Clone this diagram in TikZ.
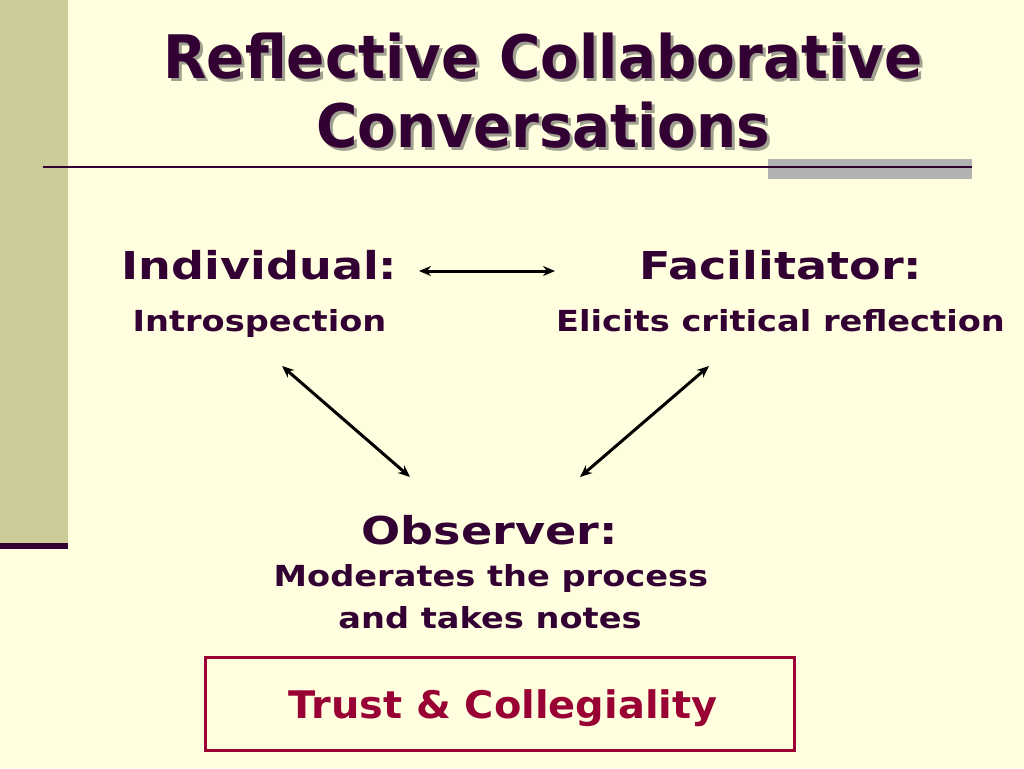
\documentclass[tikz,border=0pt]{standalone}
\usepackage{fontspec}
\setmainfont{DejaVu Sans}
\newfontfamily\titlefont[FakeStretch=0.94]{DejaVu Sans}
\newfontfamily\headfont[FakeStretch=1.20]{DejaVu Sans}
\newfontfamily\subfont[FakeStretch=1.16]{DejaVu Sans}
\newfontfamily\trustfont[FakeStretch=1.05]{DejaVu Sans}
\usetikzlibrary{arrows.meta}
\definecolor{bgc}{HTML}{FFFFE0}
\definecolor{barc}{HTML}{CCCC99}
\definecolor{purp}{HTML}{330033}
\definecolor{grayc}{HTML}{B2B2B2}
\definecolor{redc}{HTML}{990033}
\definecolor{shadowc}{HTML}{A0A090}
\newcommand{\shadowtext}[1]{\rlap{\hspace{3pt}\raisebox{-3pt}{\textcolor{shadowc}{#1}}}#1}
\tikzset{
  title/.style={anchor=base, inner sep=0pt, font=\titlefont\bfseries\fontsize{60}{62}\selectfont, text=purp},
  head/.style={anchor=base, inner sep=0pt, font=\headfont\bfseries\fontsize{38.4}{40}\selectfont, text=purp},
  sub/.style={anchor=base, inner sep=0pt, font=\subfont\bfseries\fontsize{29}{31}\selectfont, text=purp},
  dbl/.style={{Stealth[length=12pt,width=10pt]}-{Stealth[length=12pt,width=10pt]}, line width=3pt, black},
}
\begin{document}
\begin{tikzpicture}[x=1pt,y=-1pt]
\useasboundingbox (0,0) rectangle (1024,768);
\fill[bgc] (0,0) rectangle (1024,768);
\fill[barc] (0,0) rectangle (68,543);
\fill[purp] (0,543) rectangle (68,549);
\fill[grayc] (768,159) rectangle (972,179);
\draw[purp, line width=2pt] (43,167) -- (972,167);
% title
\node[title] (t1) at (543,78) {\shadowtext{Reflective Collaborative}};
\node[title] (t2) at (543,147) {\shadowtext{Conversations}};
% nodes
\node[head] (ind) at (259.5,279) {Individual:};
\node[sub] (intro) at (259.5,331) {Introspection};
\node[head] (fac) at (781,279) {Facilitator:};
\node[sub] (elic) at (780.5,331) {Elicits critical reflection};
\node[head] (obs) at (489.5,544) {Observer:};
\node[sub] (mod) at (491,586) {Moderates the process};
\node[sub] (notes) at (490,628) {and takes notes};
\node[draw=redc, line width=3pt, minimum width=589pt, minimum height=93pt, inner sep=0pt] (box) at (499.5,703.5) {};
\node[anchor=base, inner sep=0pt, font=\trustfont\bfseries\fontsize{38}{40}\selectfont, text=redc] (trust) at (503,718) {Trust \& Collegiality};
% arrows
\coordinate (a1) at (419,271);
\coordinate (a2) at (555,271);
\coordinate (b1) at (282,366);
\coordinate (b2) at (410,477);
\coordinate (c1) at (709,366);
\coordinate (c2) at (580,477);
\draw[dbl] (a1) -- (a2);
\draw[dbl] (b1) -- (b2);
\draw[dbl] (c1) -- (c2);
\end{tikzpicture}
\end{document}
